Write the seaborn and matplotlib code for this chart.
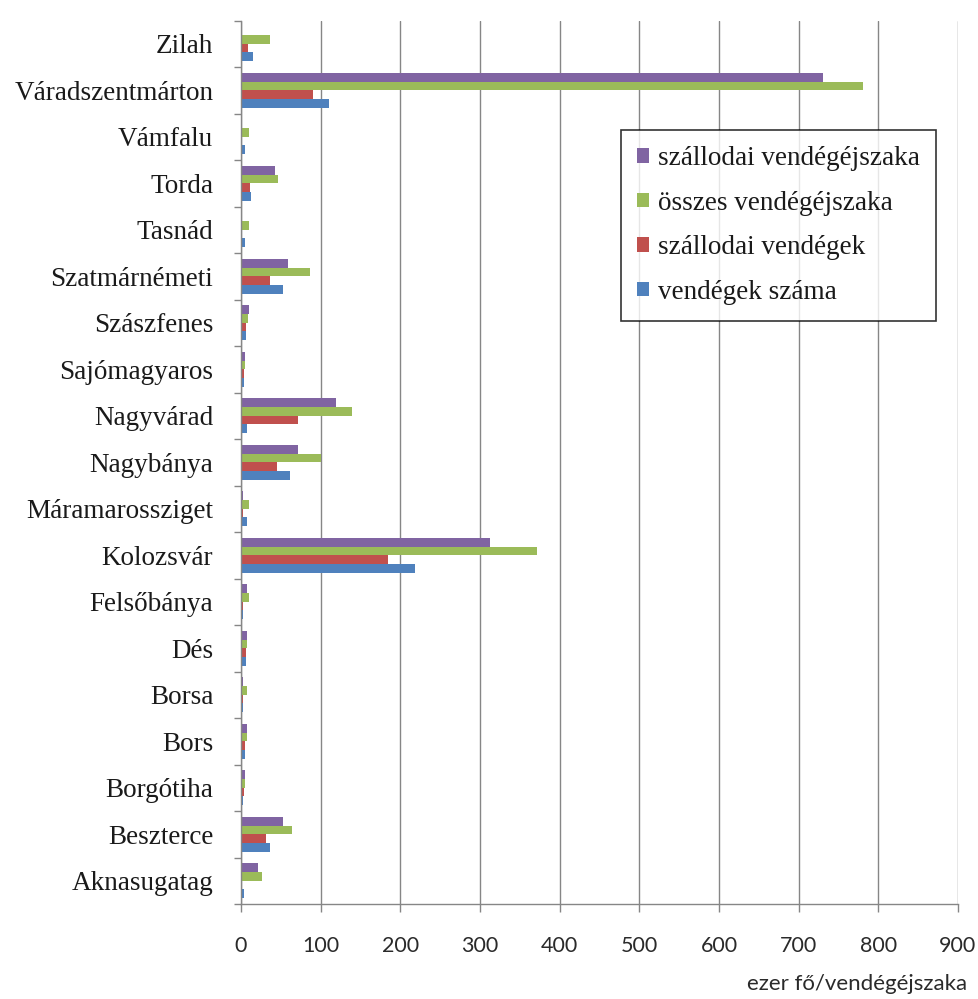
import matplotlib
matplotlib.use("Agg")
import matplotlib.pyplot as plt
import seaborn as sns
import pandas as pd
import numpy as np

categories = ["Zilah", "Váradszentmárton", "Vámfalu", "Torda", "Tasnád",
              "Szatmárnémeti", "Szászfenes", "Sajómagyaros", "Nagyvárad",
              "Nagybánya", "Máramarossziget", "Kolozsvár", "Felsőbánya", "Dés",
              "Borsa", "Bors", "Borgótiha", "Beszterce", "Aknasugatag"]

szallodai_vendegejszaka = [0, 731, 0, 43, 0, 59, 10, 5.5, 119, 71, 2, 312, 7, 8, 3, 8, 5.5, 53, 21]
osszes_vendegejszaka = [36, 781, 10, 46, 10, 86, 9, 4.5, 139, 101, 10, 372, 10, 7, 8, 8, 4.5, 64, 26]
szallodai_vendegek = [8.5, 90, 1, 11, 1, 36, 6, 3.5, 71, 45, 2, 184, 2, 6, 2, 5.5, 3.5, 31, 0.5]
vendegek_szama = [15.5, 111, 5.5, 13, 5.5, 53, 6, 3.5, 8, 61, 8, 219, 2, 6, 2, 5.5, 3, 36, 3.5]

series_names = ["szállodai vendégéjszaka", "összes vendégéjszaka",
                "szállodai vendégek", "vendégek száma"]
series_values = [szallodai_vendegejszaka, osszes_vendegejszaka,
                 szallodai_vendegek, vendegek_szama]
colors = ["#8064A2", "#9BBB59", "#C0504D", "#4F81BD"]

xticks = [0, 100, 200, 300, 400, 500, 600, 700, 800, 900]
xlabel = "ezer fő/vendégéjszaka"

rows = []
for name, vals in zip(series_names, series_values):
    for c, v in zip(categories, vals):
        rows.append({"város": c, "érték": v, "sorozat": name})
df = pd.DataFrame(rows)

sns.set_theme(style="white")
plt.rcParams["font.family"] = ["Liberation Serif", "DejaVu Serif"]

fig = plt.figure(figsize=(9.79, 9.99), dpi=100)
ax = fig.add_axes([241 / 979, 1 - 904 / 999, 717 / 979, (904 - 20.5) / 999])

sns.barplot(data=df, y="város", x="érték", hue="sorozat", order=categories,
            hue_order=series_names, palette=colors, orient="h", width=0.75,
            saturation=1, ax=ax, linewidth=0, edgecolor="none", legend=True)

ax.set_xlim(0, 900)
ax.set_ylim(len(categories) - 0.5, -0.5)
ax.set_xticks(xticks)
ax.xaxis.grid(True, color="#868686", linewidth=1.0)
ax.yaxis.grid(False)
ax.set_axisbelow(True)

for s in ["top", "right"]:
    ax.spines[s].set_visible(False)
for s in ["left", "bottom"]:
    ax.spines[s].set_color("#868686")
    ax.spines[s].set_linewidth(1.0)

ax.set_xlabel("")
ax.set_ylabel("")

ax.tick_params(axis="x", direction="out", length=6, width=1, color="#868686",
               pad=17, labelsize=15.5, bottom=True)
for lab in ax.get_xticklabels():
    lab.set_fontfamily(["Lato", "DejaVu Sans"])
    lab.set_color("#2a2a2a")

ax.set_yticks(range(len(categories)))
ax.set_yticklabels(categories)
ax.tick_params(axis="y", which="major", length=0, pad=20, labelsize=19.5, left=False)
for lab in ax.get_yticklabels():
    lab.set_color("#1a1a1a")
ax.set_yticks(np.arange(-0.5, len(categories), 1), minor=True)
ax.tick_params(axis="y", which="minor", length=5, width=1, color="#868686", left=True)

leg = ax.legend(loc="upper left", bbox_to_anchor=(0.53, 0.876), frameon=True,
                fancybox=False, edgecolor="black", fontsize=19.5,
                handlelength=0.45, handleheight=0.45, handletextpad=0.3,
                labelspacing=0.72, borderpad=0.6, borderaxespad=0)
leg.get_frame().set_linewidth(1.2)
for t in leg.get_texts():
    t.set_color("#1a1a1a")

fig.text(857 / 979, 1 - 984 / 999, xlabel, ha="center", va="center",
         fontsize=16, family=["Lato", "DejaVu Sans"], color="#2a2a2a")

fig.savefig("out.png", dpi=100, facecolor="white")
